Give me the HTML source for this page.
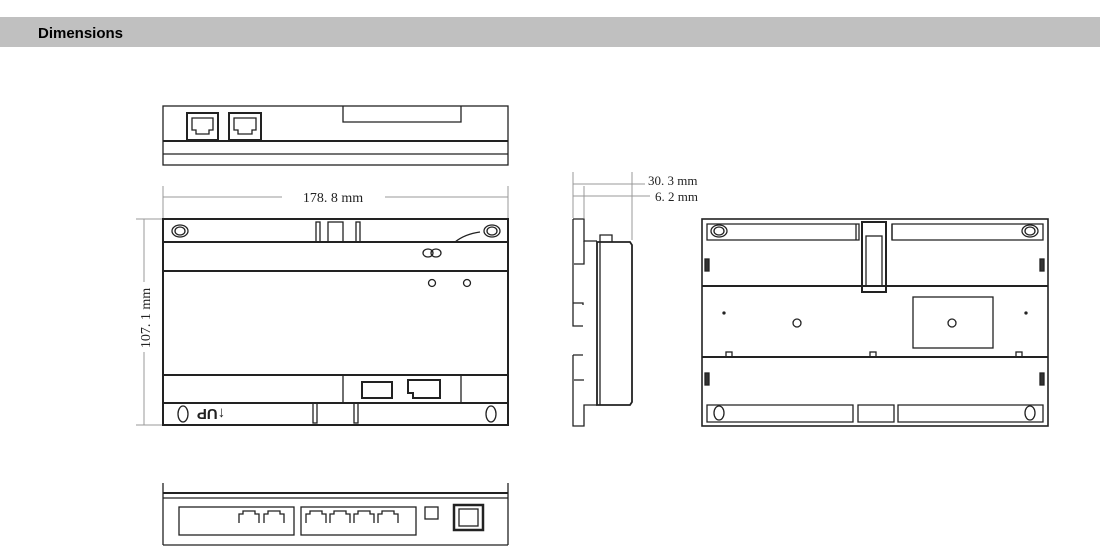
<!DOCTYPE html>
<html><head><style>
html,body{margin:0;padding:0;background:#fff;width:1107px;height:560px;overflow:hidden}
svg{display:block}
text{font-family:"Liberation Serif",serif}
</style></head><body>
<svg width="1107" height="560" viewBox="0 0 1107 560" xmlns="http://www.w3.org/2000/svg">
<rect x="0" y="17" width="1100" height="30" fill="#c0c0c0"/>
<text x="38" y="38" font-weight="bold" font-size="15" fill="#000" style="font-family:'Liberation Sans',sans-serif">Dimensions</text>

<g fill="none" stroke="#222" stroke-width="1.3">
<!-- top view -->
<rect x="163" y="106" width="345" height="59"/>
<line x1="163" y1="141" x2="508" y2="141" stroke-width="2"/>
<line x1="163" y1="154" x2="508" y2="154"/>
<rect x="187" y="113" width="31" height="27" stroke-width="2"/>
<rect x="229" y="113" width="32" height="27" stroke-width="2"/>
<path d="M192 118h21v12h-4v4h-13v-4h-4z"/>
<path d="M234 118h22v12h-4v4h-14v-4h-4z"/>
<path d="M343 106v16h118v-16"/>

<!-- front view -->
<rect x="163" y="219" width="345" height="206" stroke-width="2"/>
<line x1="163" y1="242" x2="508" y2="242" stroke-width="2"/>
<line x1="163" y1="271" x2="508" y2="271" stroke-width="2"/>
<line x1="163" y1="375" x2="508" y2="375" stroke-width="2"/>
<line x1="163" y1="403" x2="508" y2="403" stroke-width="2"/>
<rect x="343" y="375" width="118" height="28"/>
<rect x="362" y="382" width="30" height="16" stroke-width="2"/>
<path d="M408 380h32v18h-27v-5h-5z" stroke-width="2"/>
<ellipse cx="180" cy="231" rx="8" ry="6"/><ellipse cx="180" cy="231" rx="5" ry="4"/>
<ellipse cx="492" cy="231" rx="8" ry="6"/><ellipse cx="492" cy="231" rx="5" ry="4"/>
<path d="M455 242q10-8 25-10"/>
<rect x="316" y="222" width="4" height="20"/><rect x="328" y="222" width="15" height="20"/><rect x="356" y="222" width="4" height="20"/>
<ellipse cx="428" cy="253" rx="5" ry="4"/><ellipse cx="436" cy="253" rx="5" ry="4"/>
<circle cx="432" cy="283" r="3.5"/><circle cx="467" cy="283" r="3.5"/>
<ellipse cx="183" cy="414" rx="5" ry="8"/>
<ellipse cx="491" cy="414" rx="5" ry="8"/>
<rect x="313" y="403" width="4" height="20"/><rect x="354" y="403" width="4" height="20"/>
<!-- dims -->
<g stroke="#999" stroke-width="1">
<line x1="163" y1="186" x2="163" y2="218"/><line x1="508" y1="186" x2="508" y2="218"/>
<line x1="163" y1="197" x2="282" y2="197"/><line x1="385" y1="197" x2="508" y2="197"/>
<line x1="136" y1="219" x2="162" y2="219"/><line x1="136" y1="425" x2="162" y2="425"/>
<line x1="144" y1="219" x2="144" y2="282"/><line x1="144" y1="352" x2="144" y2="425"/>
<line x1="573" y1="172" x2="573" y2="218"/><line x1="632" y1="172" x2="632" y2="240"/><line x1="584" y1="186" x2="584" y2="218"/>
<line x1="573" y1="184" x2="645" y2="184"/><line x1="573" y1="196" x2="650" y2="196"/>
</g>

<!-- side view -->
<path d="M573 219h11v22h13M573 219v107h10M573 305v-2h10v2M573 326v-21M573 355v71h11v-21h13M573 355h10" />
<path d="M597 242h33l2 3v157l-2 3h-33z" stroke-width="1.8"/>
<line x1="600" y1="242" x2="600" y2="405"/>
<path d="M600 242v-7h12v7"/>
<path d="M584 241v23h-10M584 380h-10"/>

<!-- back view -->
<rect x="702" y="219" width="346" height="207" stroke-width="1.6"/>
<line x1="702" y1="286" x2="1048" y2="286" stroke-width="2"/>
<line x1="702" y1="357" x2="1048" y2="357" stroke-width="2"/>
<path d="M707 224h152v16h-152zM892 224h151v16h-151z"/>
<ellipse cx="719" cy="231" rx="8" ry="6"/><ellipse cx="719" cy="231" rx="5" ry="4"/>
<ellipse cx="1030" cy="231" rx="8" ry="6"/><ellipse cx="1030" cy="231" rx="5" ry="4"/>
<rect x="862" y="222" width="24" height="70" stroke-width="2"/>
<rect x="866" y="236" width="16" height="50"/>
<line x1="856" y1="224" x2="856" y2="240"/><line x1="892" y1="224" x2="892" y2="240"/>
<rect x="913" y="297" width="80" height="51"/>
<circle cx="797" cy="323" r="4"/><circle cx="952" cy="323" r="4"/>
<rect x="705" y="259" width="4" height="12" fill="#333"/><rect x="1040" y="259" width="4" height="12" fill="#333"/>
<rect x="705" y="373" width="4" height="12" fill="#333"/><rect x="1040" y="373" width="4" height="12" fill="#333"/>
<rect x="726" y="352" width="6" height="5"/><rect x="870" y="352" width="6" height="5"/><rect x="1016" y="352" width="6" height="5"/>
<path d="M707 405h146v17h-146zM858 405h36v17h-36zM898 405h145v17h-145z"/>
<ellipse cx="719" cy="413" rx="5" ry="7"/><ellipse cx="1030" cy="413" rx="5" ry="7"/>
<circle cx="724" cy="313" r="1" fill="#333"/><circle cx="1026" cy="313" r="1" fill="#333"/>

<!-- bottom view -->
<path d="M163 483v62M508 483v62M163 545h345"/>
<line x1="163" y1="493" x2="508" y2="493" stroke-width="2"/>
<line x1="163" y1="498" x2="508" y2="498"/>
<rect x="179" y="507" width="115" height="28"/>
<rect x="301" y="507" width="115" height="28"/>
<path d="M239 523v-9h4v-3h12v3h4v9M264 523v-9h4v-3h12v3h4v9"/>
<path d="M306 523v-9h4v-3h12v3h4v9M330 523v-9h4v-3h12v3h4v9M354 523v-9h4v-3h12v3h4v9M378 523v-9h4v-3h12v3h4v9"/>
<rect x="425" y="507" width="13" height="12"/>
<rect x="454" y="505" width="29" height="25" stroke-width="2.5"/>
<rect x="459" y="509" width="19" height="17"/>
</g>

<g fill="#222">
<text x="333" y="202" font-size="14" text-anchor="middle">178. 8 mm</text>
<text x="150" y="318" font-size="14" text-anchor="middle" transform="rotate(-90 150 318)">107. 1 mm</text>
<text x="648" y="185" font-size="13">30. 3 mm</text>
<text x="655" y="201" font-size="13">6. 2 mm</text>
<text x="211" y="419" font-size="15" font-weight="bold" text-anchor="middle" transform="rotate(180 211 414)" style="font-family:'Liberation Sans',sans-serif">↑UP</text>
</g>
</svg>
</body></html>
